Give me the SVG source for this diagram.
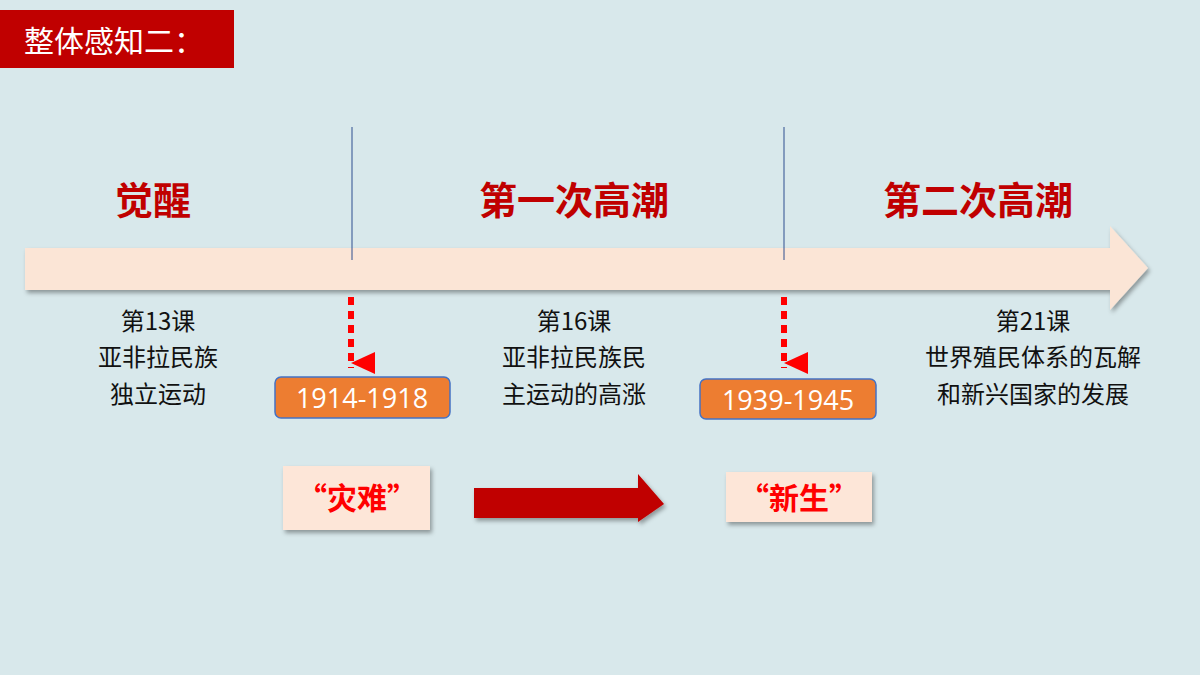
<svg xmlns="http://www.w3.org/2000/svg" width="1200" height="675" viewBox="0 0 1200 675">
<defs>
<filter id="sh" x="-10%" y="-10%" width="130%" height="140%"><feDropShadow dx="2" dy="3" stdDeviation="2" flood-color="#000" flood-opacity="0.35"/></filter>
<marker id="ah" markerWidth="10" markerHeight="10" refX="5" refY="0" viewBox="0 -10 10 10" orient="auto" markerUnits="userSpaceOnUse" overflow="visible"><path d="M-11,-24 L11,-24 L0,0 Z" fill="#ff0000"/></marker>
</defs>
<style>
.cn{font-family:"Noto Sans CJK SC","Noto Serif CJK SC",serif;font-size:24px;fill:#111;text-anchor:middle}
.hd{font-family:"Noto Sans CJK SC",sans-serif;font-size:38px;font-weight:bold;fill:#c00000;text-anchor:middle}
.yr{font-family:"Open Sans","Liberation Sans",sans-serif;font-size:27px;fill:#fff;text-anchor:middle}
.yb{fill:#ed7d31;stroke:#4472c4;stroke-width:1.5}
.lb{fill:#fde6d8;filter:url(#sh)}
.lt{font-family:"Noto Sans CJK SC",sans-serif;font-size:30px;font-weight:bold;fill:#ff0000;text-anchor:middle}
.vl{stroke:#2f4f8f;stroke-width:1}
.dt{stroke:#ff0000;stroke-width:6;stroke-dasharray:8,6}
</style>
<rect width="1200" height="675" fill="#d8e8eb"/>
<g id="title"><rect x="0" y="10" width="234" height="58" fill="#c00000"/><text x="24" y="52" font-family="Noto Sans CJK SC,sans-serif" font-size="30" fill="#fff">整体感知二：</text></g>
<g id="timeline"><path d="M25,248 L1110,248 L1110,226 L1148,268 L1110,310 L1110,290 L25,290 Z" fill="#fbe5d6" filter="url(#sh)"/></g>
<g id="connectors">
<line class="vl" x1="352" y1="127" x2="352" y2="260"/>
<line class="vl" x1="784" y1="127" x2="784" y2="260"/>
<line class="dt" x1="351" y1="297" x2="351" y2="368" marker-end="url(#ah)"/>
<line class="dt" x1="784" y1="297" x2="784" y2="368" marker-end="url(#ah)"/>
<path d="M474,488 L638,488 L638,474 L664,504 L638,522 L638,518 L474,518 Z" fill="#c00000" filter="url(#sh)"/>
</g>
<g id="h1"><text class="hd" x="153" y="214">觉醒</text></g>
<g id="h2"><text class="hd" x="574" y="214">第一次高潮</text></g>
<g id="h3"><text class="hd" x="978" y="214">第二次高潮</text></g>
<g id="l13"><text class="cn" x="158" y="330">第13课</text><text class="cn" x="158" y="366">亚非拉民族</text><text class="cn" x="158" y="403">独立运动</text></g>
<g id="l16"><text class="cn" x="574" y="330">第16课</text><text class="cn" x="574" y="366">亚非拉民族民</text><text class="cn" x="574" y="403">主运动的高涨</text></g>
<g id="l21"><text class="cn" x="1033" y="330">第21课</text><text class="cn" x="1033" y="366">世界殖民体系的瓦解</text><text class="cn" x="1033" y="403">和新兴国家的发展</text></g>
<g id="y1"><rect class="yb" x="275" y="377" width="175" height="41" rx="6"/><text class="yr" x="362" y="408">1914-1918</text></g>
<g id="y2"><rect class="yb" x="700" y="379" width="176" height="40" rx="6"/><text class="yr" x="788" y="410">1939-1945</text></g>
<g id="n1"><rect class="lb" x="283" y="466" width="147" height="64"/><text class="lt" x="357" y="509">“灾难”</text></g>
<g id="n2"><rect class="lb" x="726" y="472" width="146" height="50"/><text class="lt" x="799" y="509">“新生”</text></g>
</svg>
